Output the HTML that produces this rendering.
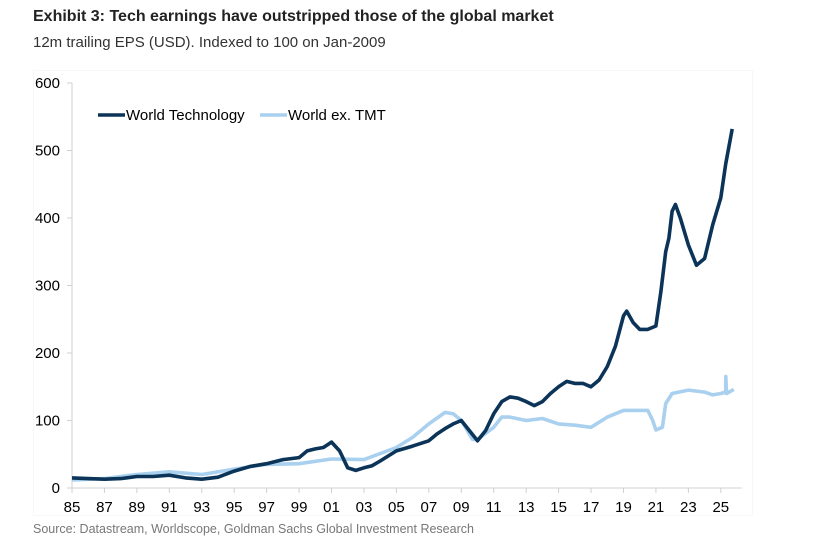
<!DOCTYPE html>
<html><head><meta charset="utf-8"><style>
body{margin:0;background:#fff;width:819px;height:559px;overflow:hidden;font-family:"Liberation Sans",sans-serif}
#t{position:absolute;left:33px;top:8px;font-size:16px;font-weight:bold;color:#222}
#s{position:absolute;left:33px;top:34px;font-size:15px;color:#333}
#src{position:absolute;left:33px;top:522px;font-size:12.5px;color:#777}
#panel{position:absolute;left:33px;top:70px;width:720px;height:446px;border:1px solid #f7f7f7;box-sizing:border-box}
svg{position:absolute;left:0;top:0}
</style></head><body>
<div id="t">Exhibit 3: Tech earnings have outstripped those of the global market</div>
<div id="s">12m trailing EPS (USD). Indexed to 100 on Jan-2009</div>
<div id="panel"></div>
<svg id="c" width="819" height="559"></svg>
<div id="src">Source: Datastream, Worldscope, Goldman Sachs Global Investment Research</div>
<script>
const yTicks=[0,100,200,300,400,500,600];
const xTickYears=[1985,1987,1989,1991,1993,1995,1997,1999,2001,2003,2005,2007,2009,2011,2013,2015,2017,2019,2021,2023,2025];
const xTickLabels=["85","87","89","91","93","95","97","99","01","03","05","07","09","11","13","15","17","19","21","23","25"];
const techYears=[1985,1986,1987,1988,1989,1990,1991,1992,1993,1994,1995,1996,1997,1998,1999,1999.5,2000,2000.5,2001,2001.5,2002,2002.5,2003,2003.5,2004,2005,2006,2007,2007.5,2008,2008.5,2009,2009.5,2010,2010.5,2011,2011.5,2012,2012.5,2013,2013.5,2014,2014.5,2015,2015.5,2016,2016.5,2017,2017.5,2018,2018.5,2019,2019.2,2019.6,2020,2020.5,2021,2021.3,2021.6,2021.8,2022,2022.2,2022.5,2023,2023.5,2024,2024.5,2025,2025.3,2025.7];
const techValues=[15,14,13,14,17,17,19,15,13,16,25,32,36,42,45,55,58,60,68,55,30,26,30,33,40,55,62,70,80,88,95,100,85,70,85,110,128,135,133,128,122,128,140,150,158,155,155,150,160,180,210,255,262,245,235,235,240,290,350,370,410,420,400,360,330,340,390,430,480,532];
const tmtYears=[1985,1987,1989,1991,1993,1995,1997,1999,2001,2003,2005,2006,2007,2008,2008.5,2009,2009.7,2010,2011,2011.5,2012,2013,2014,2015,2016,2017,2018,2019,2020,2020.5,2020.8,2021,2021.4,2021.6,2022,2023,2024,2024.5,2025,2025.3,2025.31,2025.35,2025.8];
const tmtValues=[12,14,20,24,20,28,35,36,43,42,60,75,95,112,110,100,72,72,90,105,105,100,103,95,93,90,105,115,115,115,100,86,90,125,140,145,142,138,140,142,165,140,146];
const series=["World Technology","World ex. TMT"];
const X=y=>72+(y-1985)*16.22, Y=v=>488-v*0.675;
const svg=document.getElementById('c'),NS="http://www.w3.org/2000/svg";
function mk(t,a,p){const e=document.createElementNS(NS,t);for(const k in a)e.setAttribute(k,a[k]);(p||svg).appendChild(e);return e;}
let ax=mk('line',{x1:72,x2:72,y1:Y(600),y2:Y(0),stroke:'#d0d0d0'});

let bx=mk('line',{x1:72,x2:X(2026.3),y1:Y(0),y2:Y(0),stroke:'#d0d0d0'});

yTicks.forEach(v=>{mk('line',{x1:67,x2:72,y1:Y(v),y2:Y(v),stroke:'#d0d0d0'});
const t=mk('text',{x:60,y:Y(v)+5,'text-anchor':'end','font-size':15,fill:'#000'});t.textContent=v;
});
xTickYears.forEach((yr,i)=>{mk('line',{x1:X(yr),x2:X(yr),y1:Y(0),y2:Y(0)+5,stroke:'#d0d0d0'});
const t=mk('text',{x:X(yr),y:Y(0)+24,'text-anchor':'middle','font-size':15,fill:'#000'});t.textContent=xTickLabels[i];
});
function line(xs,vs,col,name){const p=mk('path',{d:xs.map((x,i)=>(i?'L':'M')+X(x).toFixed(1)+','+Y(vs[i]).toFixed(1)).join(''),fill:'none',stroke:col,'stroke-width':3.6,'stroke-linejoin':'round'});
}
line(tmtYears,tmtValues,'#a9d1ef','line-world-ex-tmt');
line(techYears,techValues,'#0b3458','line-world-technology');
[[98,'#0b3458',series[0]],[260,'#a9d1ef',series[1]]].forEach(([x,c,l],i)=>{
const g=mk('g',{});
mk('line',{x1:x,x2:x+27,y1:115,y2:115,stroke:c,'stroke-width':3.5},g);
const t=mk('text',{x:x+28,y:120,'font-size':15,fill:'#000'},g);t.textContent=l;});
</script>
</body></html>
